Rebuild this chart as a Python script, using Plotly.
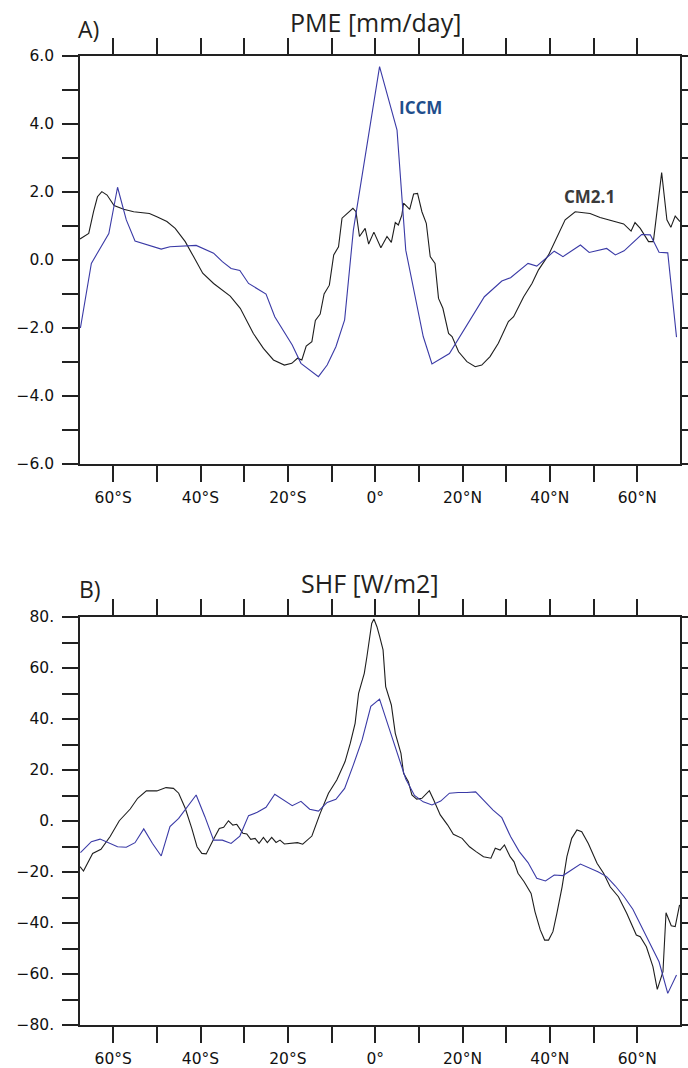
import plotly.graph_objects as go

# ---------------- data ----------------
# Panel A: PME [mm/day]
iccm_pme_lat = [-67.5, -65, -61, -59, -57, -55, -49, -47, -41, -37, -35, -33, -31, -29, -25, -23,
                -19, -17, -13, -11, -9, -7, -5, 1, 5, 7, 11, 13, 17, 25, 29, 31, 35, 37, 41, 43,
                47, 49, 53, 55, 57, 61, 63, 65, 67, 69]
iccm_pme = [-2.0, -0.1, 0.78, 2.14, 1.18, 0.56, 0.32, 0.39, 0.43, 0.20, -0.05, -0.25, -0.31, -0.69,
            -1.0, -1.67, -2.5, -3.04, -3.43, -3.09, -2.55, -1.76, 0.88, 5.69, 3.82, 0.29, -2.25,
            -3.06, -2.75, -1.08, -0.62, -0.52, -0.1, -0.18, 0.26, 0.10, 0.44, 0.22, 0.34, 0.15,
            0.27, 0.75, 0.74, 0.23, 0.21, -2.27]

cm21_pme_lat = [-67.6, -65.6, -64.5, -63.6, -62.6, -61.4, -59.8, -57.6, -55.3, -53.4, -51.7, -50.0,
                -47.7, -45.8, -43.5, -41.6, -39.5, -37.0, -34.7, -33.2, -30.9, -27.9, -25.6, -23.3,
                -20.8, -19.1, -17.8, -16.8, -15.8, -14.5, -13.7, -12.6, -11.7, -10.5, -9.5, -8.4,
                -7.6, -6.1, -5.1, -4.4, -3.6, -2.3, -1.5, -0.3, 1.3, 2.7, 3.7, 4.6, 5.3, 6.1, 6.5,
                7.9, 8.8, 9.7, 10.7, 11.7, 12.6, 13.7, 14.5, 15.5, 16.8, 17.6, 19.1, 21.0, 22.9,
                24.4, 26.3, 28.2, 30.5, 31.7, 34.0, 35.9, 37.4, 39.7, 41.6, 43.5, 45.8, 49.2, 51.5,
                54.6, 56.9, 58.6, 59.5, 60.7, 62.6, 63.7, 64.9, 65.6, 66.8, 67.7, 68.7, 69.8]
cm21_pme = [0.62, 0.78, 1.42, 1.86, 2.01, 1.91, 1.60, 1.49, 1.42, 1.40, 1.37, 1.27, 1.13, 0.93,
            0.54, 0.10, -0.39, -0.69, -0.93, -1.06, -1.42, -2.16, -2.60, -2.94, -3.09, -3.04,
            -2.89, -2.94, -2.53, -2.40, -1.78, -1.59, -1.00, -0.74, 0.15, 0.39, 1.23, 1.40, 1.52,
            1.42, 0.69, 0.93, 0.47, 0.82, 0.36, 0.69, 0.52, 1.10, 1.03, 1.32, 1.67, 1.49, 1.94,
            1.96, 1.42, 1.08, 0.10, -0.10, -1.13, -1.42, -2.16, -2.25, -2.70, -2.99, -3.14, -3.09,
            -2.84, -2.45, -1.81, -1.67, -1.08, -0.69, -0.29, 0.15, 0.69, 1.18, 1.42, 1.37, 1.25,
            1.13, 1.06, 0.85, 1.10, 0.93, 0.54, 0.54, 1.86, 2.57, 1.18, 0.96, 1.29, 1.13]

# Panel B: SHF [W/m2]
iccm_shf_lat = [-67.5, -65, -63, -59, -57, -55, -53, -51, -49, -47, -45, -43, -41, -39, -37, -35,
                -33, -31, -29, -27, -25, -23, -21, -19, -17, -15, -13, -11, -9, -7, -5, -3, -1,
                1, 3, 5, 7, 9, 11, 13, 15, 17, 19, 21, 23, 27, 29, 31, 33, 35, 37, 39, 41, 43,
                47, 51, 53, 55, 57, 59, 61, 63, 65, 67, 69]
iccm_shf = [-12.4, -8.1, -7.1, -10.1, -10.3, -8.5, -3.1, -8.8, -13.7, -2.2, 1.0, 5.6, 10.2, 1.7,
            -7.5, -7.5, -8.8, -5.9, 2.1, 3.4, 5.4, 10.5, 8.2, 6.0, 7.7, 4.6, 3.9, 7.3, 8.5, 12.8,
            22.0, 31.8, 45.0, 47.8, 37.3, 27.0, 16.5, 10.0, 7.5, 6.3, 7.8, 10.9, 11.2, 11.2, 11.4,
            4.3, 1.3, -6.1, -12.0, -16.3, -22.5, -23.5, -21.2, -21.4, -16.9, -19.9, -21.8, -25.5,
            -29.7, -34.6, -41.4, -48.0, -55.2, -67.6, -60.4]

cm21_shf_lat = [-67.6, -66.8, -64.7, -62.8, -60.7, -58.6, -56.1, -54.4, -52.4, -50.0, -47.9,
                -46.2, -45.0, -43.5, -42.0, -40.8, -39.7, -38.7, -36.9, -35.7, -34.7, -33.6,
                -32.6, -31.7, -30.3, -29.4, -28.5, -27.5, -26.6, -25.6, -24.7, -23.7, -22.7,
                -21.8, -20.8, -18.7, -17.8, -16.6, -14.5, -12.6, -10.7, -8.8, -6.9, -5.7, -4.6,
                -3.8, -2.5, -1.9, -1.3, -0.8, -0.3, 0.4, 1.0, 1.8, 2.4, 3.7, 4.6, 5.9, 6.5, 7.6,
                8.4, 9.5, 10.7, 12.4, 13.4, 14.9, 16.6, 17.9, 19.9, 21.6, 23.1, 24.8, 26.5, 27.5,
                28.6, 29.6, 30.9, 31.8, 32.7, 34.1, 35.7, 36.6, 37.8, 38.8, 39.7, 40.7, 41.6,
                42.8, 43.9, 45.0, 46.2, 47.3, 48.8, 50.8, 52.3, 53.8, 55.7, 57.6, 59.8, 60.7,
                62.1, 63.6, 64.6, 65.9, 66.6, 67.8, 68.7, 69.7]
cm21_shf = [-17.9, -19.6, -12.7, -11.1, -6.1, 0.1, 4.7, 8.9, 11.8, 11.8, 13.1, 12.8, 10.9, 5.0,
            -2.9, -10.1, -12.7, -12.9, -6.8, -2.9, -2.5, 0.1, -1.6, -1.3, -4.8, -5.1, -7.2, -6.8,
            -8.8, -6.4, -8.5, -6.4, -8.4, -7.5, -9.0, -8.8, -8.5, -9.1, -5.9, 3.0, 10.9, 16.1,
            23.3, 30.5, 38.3, 50.1, 57.9, 64.4, 71.6, 77.5, 79.2, 76.2, 72.5, 67.1, 52.7, 45.5,
            34.4, 26.5, 18.7, 15.4, 10.2, 8.6, 8.9, 11.9, 8.2, 2.4, -1.6, -5.2, -6.8, -10.1,
            -12.0, -14.0, -14.6, -10.7, -11.4, -9.4, -14.0, -16.0, -20.5, -23.8, -28.4, -35.6,
            -42.7, -46.7, -46.7, -43.4, -36.2, -25.8, -14.0, -6.8, -3.5, -4.2, -8.8, -16.6,
            -20.5, -25.8, -29.7, -36.2, -44.7, -45.4, -49.3, -57.1, -66.0, -59.1, -36.0, -41.1,
            -41.4, -32.9]

x_tickvals = [-60, -50, -40, -30, -20, -10, 0, 10, 20, 30, 40, 50, 60]
x_ticktext = ["60°S", "", "40°S", "", "20°S", "", "0°", "", "20°N", "", "40°N", "", "60°N"]

pme_tickvals = [6, 5, 4, 3, 2, 1, 0, -1, -2, -3, -4, -5, -6]
pme_ticktext = ["6.0", "", "4.0", "", "2.0", "", "0.0", "", "−2.0", "", "−4.0", "", "−6.0"]

shf_tickvals = [80, 70, 60, 50, 40, 30, 20, 10, 0, -10, -20, -30, -40, -50, -60, -70, -80]
shf_ticktext = ["80.", "", "60.", "", "40.", "", "20.", "", "0.", "", "−20.", "", "−40.", "",
                "−60.", "", "−80."]

# ---------------- style ----------------
BLUE = "#3a3aa6"
BLACK = "#1e1e1e"
AXIS = "#222222"
W, H = 688, 1068
ML, MR, MT, MB = 80, 8, 56, 43
PW, PH = W - ML - MR, H - MT - MB


def py(ypix):
    return (H - MB - ypix) / PH


def px(xpix):
    return (xpix - ML) / PW


fig = go.Figure()
fig.add_trace(go.Scatter(x=cm21_pme_lat, y=cm21_pme, mode="lines",
                         line=dict(color=BLACK, width=1.1), xaxis="x", yaxis="y"))
fig.add_trace(go.Scatter(x=iccm_pme_lat, y=iccm_pme, mode="lines",
                         line=dict(color=BLUE, width=1.1), xaxis="x", yaxis="y"))
fig.add_trace(go.Scatter(x=cm21_shf_lat, y=cm21_shf, mode="lines",
                         line=dict(color=BLACK, width=1.1), xaxis="x2", yaxis="y2"))
fig.add_trace(go.Scatter(x=iccm_shf_lat, y=iccm_shf, mode="lines",
                         line=dict(color=BLUE, width=1.1), xaxis="x2", yaxis="y2"))

tickfont = dict(family="DejaVu Sans", size=15.5, color="#111111")
common_axis = dict(showgrid=False, zeroline=False, showline=True, linecolor=AXIS, linewidth=1.5,
                   mirror="ticks", ticks="outside", ticklen=16, tickwidth=1.5, tickcolor=AXIS,
                   tickfont=tickfont, automargin=False)

xcommon = dict(common_axis, range=[-67.6, 69.8], tickmode="array", tickvals=x_tickvals,
               ticktext=x_ticktext, ticklabelstandoff=3)

fig.update_layout(
    width=W, height=H, autosize=False,
    margin=dict(l=ML, r=MR, t=MT, b=MB, autoexpand=False),
    paper_bgcolor="white", plot_bgcolor="white",
    showlegend=False,
    xaxis=dict(xcommon, domain=[0, 1], anchor="y"),
    yaxis=dict(common_axis, domain=[py(464), 1.0], anchor="x", range=[-6, 6],
               tickmode="array", tickvals=pme_tickvals, ticktext=pme_ticktext,
               ticklabelstandoff=5),
    xaxis2=dict(xcommon, domain=[0, 1], anchor="y2"),
    yaxis2=dict(common_axis, domain=[0, py(617)], anchor="x2", range=[-80, 80],
                tickmode="array", tickvals=shf_tickvals, ticktext=shf_ticktext,
                ticklabelstandoff=5),
)

title_font = dict(family="Open Sans", size=25, color="#231f20")
label_font = dict(family="Open Sans", size=23, color="#231f20")
annotations = [
    dict(text="PME [mm/day]", x=px(375), y=py(22), font=title_font),
    dict(text="A)", x=px(88), y=py(29), font=label_font),
    dict(text="SHF [W/m2]", x=px(370), y=py(583), font=title_font),
    dict(text="B)", x=px(90), y=py(589), font=label_font),
]
for a in annotations:
    a.update(xref="paper", yref="paper", xanchor="center", yanchor="middle", showarrow=False)
    fig.add_annotation(**a)

fig.add_annotation(text="<b>ICCM</b>", x=10.3, y=4.5, xref="x", yref="y", showarrow=False,
                   font=dict(family="Open Sans", size=17, color="#1f4e8c"))
fig.add_annotation(text="<b>CM2.1</b>", x=49.0, y=1.86, xref="x", yref="y", showarrow=False,
                   font=dict(family="Open Sans", size=17, color="#3a3a3a"))

fig.write_html("out.html")
